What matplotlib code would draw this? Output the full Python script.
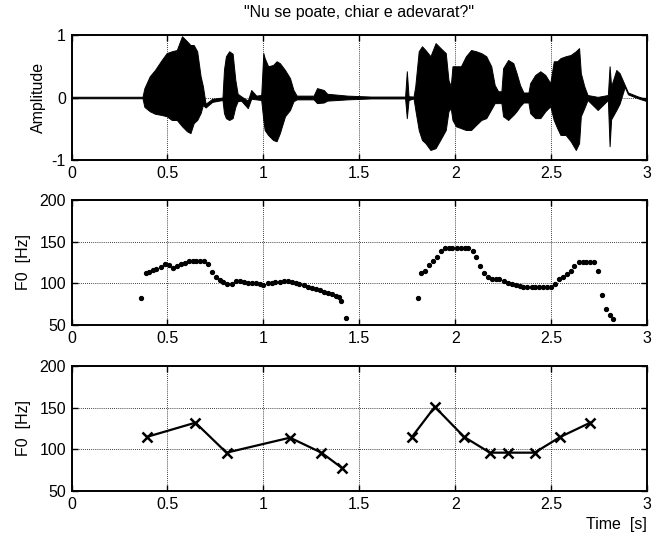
import matplotlib
matplotlib.use("Agg")
import matplotlib.pyplot as plt

plt.rcParams['font.family'] = ['Liberation Sans', 'DejaVu Sans']
plt.rcParams['axes.unicode_minus'] = False

# ---- waveform envelope ----
wave_t = [0.0, 0.37, 0.38, 0.408, 0.435, 0.47, 0.496, 0.523, 0.549, 0.576, 0.602, 0.62, 0.637,
          0.655, 0.673, 0.685, 0.699, 0.734, 0.787, 0.795, 0.805, 0.822, 0.84, 0.854, 0.866,
          0.884, 0.919, 0.937, 0.963, 0.989, 1.0, 1.007, 1.025, 1.051, 1.069, 1.086, 1.113,
          1.139, 1.157, 1.174, 1.262, 1.28, 1.315, 1.333, 1.438, 1.562, 1.739, 1.748, 1.757,
          1.783, 1.792, 1.81, 1.827, 1.845, 1.871, 1.898, 1.924, 1.951, 1.965, 1.977, 1.986,
          2.004, 2.03, 2.056, 2.083, 2.109, 2.136, 2.162, 2.188, 2.206, 2.224, 2.241, 2.25,
          2.276, 2.303, 2.32, 2.338, 2.356, 2.382, 2.391, 2.417, 2.444, 2.47, 2.496, 2.514,
          2.532, 2.549, 2.576, 2.602, 2.629, 2.646, 2.655, 2.673, 2.69, 2.743, 2.796, 2.805,
          2.813, 2.84, 2.857, 2.884, 2.901, 2.95, 3.0]
wave_up = [0.012, 0.012, 0.15, 0.34, 0.44, 0.60, 0.71, 0.74, 0.76, 0.98, 0.90, 0.84, 0.84,
           0.74, 0.34, 0.18, -0.10, -0.02, 0.00, 0.45, 0.66, 0.74, 0.70, 0.28, 0.06,
           0.02, -0.05, 0.12, 0.03, 0.04, 0.71, 0.63, 0.50, 0.52, 0.58, 0.55, 0.44,
           0.31, 0.12, 0.03, 0.03, 0.15, 0.12, 0.06, 0.03, 0.015, 0.015, 0.42, 0.02,
           0.015, 0.18, 0.74, 0.82, 0.76, 0.66, 0.87, 0.79, 0.71, 0.28, 0.18, 0.50,
           0.50, 0.50, 0.66, 0.76, 0.74, 0.71, 0.66, 0.50, 0.20, 0.10, 0.10, 0.47,
           0.60, 0.55, 0.39, 0.20, 0.08, 0.08, 0.23, 0.36, 0.42, 0.36, 0.23, 0.58,
           0.58, 0.63, 0.66, 0.68, 0.74, 0.79, 0.39, 0.18, 0.04, 0.01, 0.04, 0.50,
           0.18, 0.44, 0.39, 0.20, 0.08, 0.02, -0.03]
wave_lo = [-0.012, -0.012, -0.15, -0.22, -0.26, -0.28, -0.30, -0.36, -0.36, -0.46, -0.54, -0.57, -0.41,
           -0.36, -0.25, -0.12, -0.16, -0.07, -0.04, -0.25, -0.33, -0.36, -0.33, -0.15, -0.06,
           -0.05, -0.17, -0.02, -0.03, -0.04, -0.36, -0.52, -0.60, -0.68, -0.70, -0.57, -0.30,
           -0.20, -0.06, -0.03, -0.03, -0.09, -0.08, -0.05, -0.03, -0.015, -0.015, -0.33, -0.04,
           -0.015, -0.19, -0.52, -0.68, -0.73, -0.84, -0.81, -0.67, -0.52, -0.22, -0.17, -0.36,
           -0.46, -0.49, -0.52, -0.52, -0.44, -0.36, -0.33, -0.19, -0.09, -0.09, -0.09, -0.30,
           -0.36, -0.28, -0.22, -0.14, -0.08, -0.08, -0.25, -0.33, -0.33, -0.22, -0.14, -0.36,
           -0.49, -0.60, -0.60, -0.70, -0.84, -0.73, -0.30, -0.17, -0.04, -0.20, -0.04, -0.78,
           -0.35, -0.20, -0.10, 0.17, 0.05, -0.01, -0.06]

# ---- F0 contour (dots) ----
f0_t1 = [0.364, 0.387, 0.405, 0.423, 0.442, 0.467, 0.488, 0.509, 0.528, 0.549, 0.569, 0.590,
         0.611, 0.632, 0.651, 0.671, 0.692, 0.713, 0.731, 0.752, 0.775, 0.791, 0.813, 0.835,
         0.856, 0.877, 0.898, 0.919, 0.940, 0.962, 0.981, 1.000, 1.023, 1.043, 1.063, 1.085,
         1.106, 1.127, 1.148, 1.169, 1.188, 1.210, 1.231, 1.252, 1.273, 1.294, 1.315, 1.335,
         1.356, 1.377, 1.396, 1.407, 1.430]
f0_v1 = [83, 112, 114, 116, 117, 120, 123, 122, 119, 121, 123, 125,
         127, 127, 127, 127, 127, 123, 114, 108, 104, 102, 99, 99,
         103, 103, 102, 101, 100, 100, 99, 98, 100, 101, 102, 102,
         103, 103, 102, 101, 99, 98, 96, 94, 93, 92, 90, 88,
         87, 85, 84, 79, 58]
f0_t2 = [1.805, 1.820, 1.845, 1.864, 1.886, 1.905, 1.926, 1.945, 1.967, 1.986, 2.007, 2.028,
         2.049, 2.069, 2.092, 2.109, 2.130, 2.150, 2.171, 2.190, 2.211, 2.231, 2.252, 2.273,
         2.294, 2.315, 2.336, 2.356, 2.377, 2.398, 2.417, 2.438, 2.460, 2.481, 2.500, 2.521,
         2.540, 2.562, 2.583, 2.602, 2.621, 2.643, 2.664, 2.683, 2.704, 2.725, 2.743, 2.766,
         2.785, 2.806, 2.825]
f0_v2 = [83, 112, 115, 122, 127, 132, 139, 142, 142, 142, 142, 142,
         142, 142, 139, 132, 121, 113, 108, 105, 105, 105, 103, 101,
         99, 98, 97, 96, 96, 96, 96, 96, 96, 96, 96, 99,
         105, 108, 111, 115, 121, 126, 126, 126, 126, 126, 115, 86,
         69, 62, 57]

# ---- stylized F0 (x markers) ----
sty_t1 = [0.394, 0.646, 0.808, 1.139, 1.303, 1.408]
sty_v1 = [115, 132, 96, 114, 96, 78]
sty_t2 = [1.775, 1.894, 2.046, 2.181, 2.278, 2.414, 2.549, 2.704]
sty_v2 = [115, 151, 115, 96, 96, 96, 115, 132]

title = '"Nu se poate, chiar e adevarat?"'
xticks = [0, 0.5, 1, 1.5, 2, 2.5, 3]
xticklabels = ['0', '0.5', '1', '1.5', '2', '2.5', '3']

W, H = 661, 538
fig = plt.figure(figsize=(W / 100, H / 100), dpi=100)

left = 71.5 / W
width = (647 - 71.5) / W
def box(top_px, bot_px):
    return [left, 1 - bot_px / H, width, (bot_px - top_px) / H]

ax1 = fig.add_axes(box(35, 160))
ax2 = fig.add_axes(box(200, 325))
ax3 = fig.add_axes(box(366, 491))

fs = 11.5
for ax in (ax1, ax2, ax3):
    ax.set_xlim(0, 3)
    ax.set_xticks(xticks)
    ax.set_xticklabels(xticklabels)
    ax.grid(True, color='black', linestyle=(0, (1, 1.5)), linewidth=0.6)
    ax.tick_params(direction='in', top=True, right=True, length=4, width=1.0,
                   labelsize=fs, pad=4)
    for sp in ax.spines.values():
        sp.set_linewidth(1.4)
    ax.set_axisbelow(True)

ax1.fill_between(wave_t, wave_lo, wave_up, color='black', linewidth=0.7, edgecolor='black')
ax1.set_ylim(-1, 1)
ax1.set_yticks([-1, 0, 1])
ax1.set_ylabel('Amplitude', fontsize=fs, labelpad=4)
fig.text(left + width / 2, 1 - 12 / H, title, ha='center', va='center', fontsize=fs)

ax2.plot(f0_t1, f0_v1, 'o', color='black', markersize=2.8)
ax2.plot(f0_t2, f0_v2, 'o', color='black', markersize=2.8)
ax2.set_ylim(50, 200)
ax2.set_yticks([50, 100, 150, 200])
ax2.set_ylabel('F0  [Hz]', fontsize=fs, labelpad=6)

ax3.plot(sty_t1, sty_v1, '-x', color='black', linewidth=1.6, markersize=7, markeredgewidth=1.8)
ax3.plot(sty_t2, sty_v2, '-x', color='black', linewidth=1.6, markersize=7, markeredgewidth=1.8)
ax3.set_ylim(50, 200)
ax3.set_yticks([50, 100, 150, 200])
ax3.set_ylabel('F0  [Hz]', fontsize=fs, labelpad=6)
ax3.set_xlabel('Time  [s]', fontsize=fs, loc='right', labelpad=4)

fig.savefig('out.png', dpi=100)
